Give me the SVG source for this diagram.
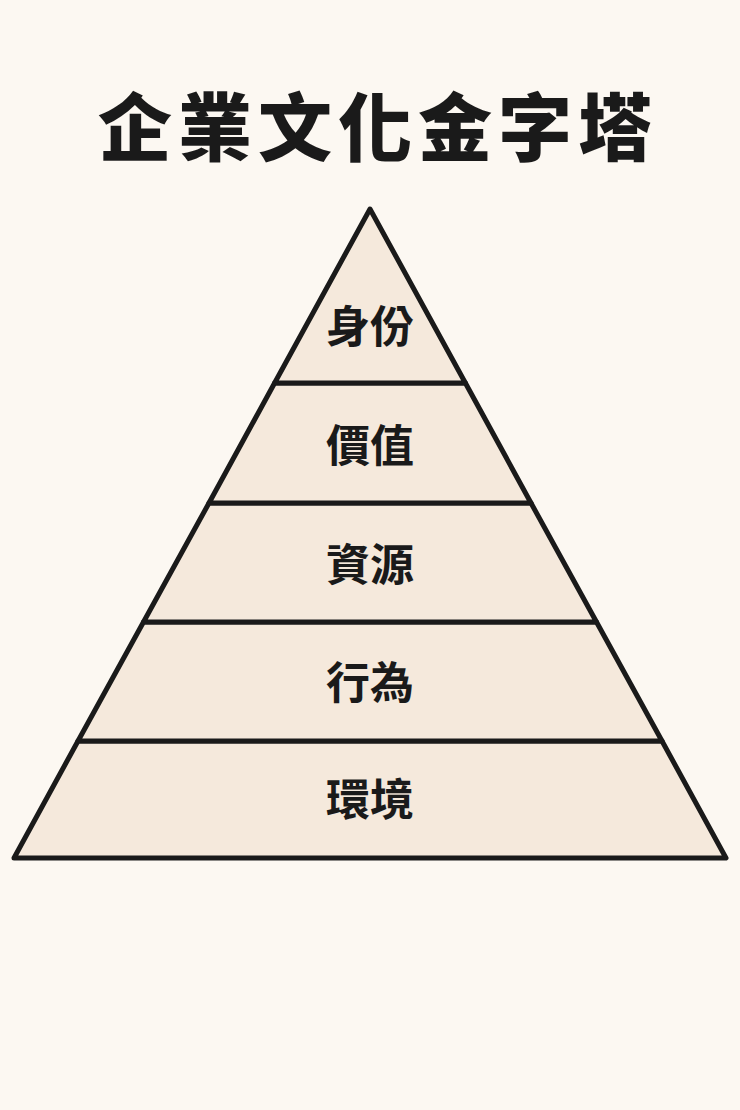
<svg xmlns="http://www.w3.org/2000/svg" width="740" height="1110" viewBox="0 0 740 1110">
<style>
.layer{fill:#f5e9dc;stroke:#1a1a1a;stroke-width:5;stroke-linejoin:round}
.lbl{font-family:"Noto Sans CJK TC","Noto Sans CJK SC",sans-serif;font-weight:700;font-size:44px;fill:#1a1a1a;text-anchor:middle}
.title{font-family:"Noto Sans CJK TC","Noto Sans CJK SC",sans-serif;font-weight:900;font-size:74px;fill:#1a1a1a;text-anchor:middle;letter-spacing:6px}
</style>
<rect width="740" height="1110" fill="#fcf8f2"/>
<text class="title" x="378" y="155">企業文化金字塔</text>
<g id="layer5"><polygon class="layer" points="78,741 662,741 726,858 14,858"/><text class="lbl" x="370" y="816">環境</text></g>
<g id="layer4"><polygon class="layer" points="143.5,622 596.5,622 662,741 78,741"/><text class="lbl" x="370" y="699">行為</text></g>
<g id="layer3"><polygon class="layer" points="209,503 531,503 596.5,622 143.5,622"/><text class="lbl" x="370" y="581">資源</text></g>
<g id="layer2"><polygon class="layer" points="274.6,383 465.4,383 531,503 209,503"/><text class="lbl" x="370" y="462">價值</text></g>
<g id="layer1"><polygon class="layer" points="370,209 465.4,383 274.6,383"/><text class="lbl" x="370" y="343">身份</text></g>
<g id="connectors"/>
</svg>
